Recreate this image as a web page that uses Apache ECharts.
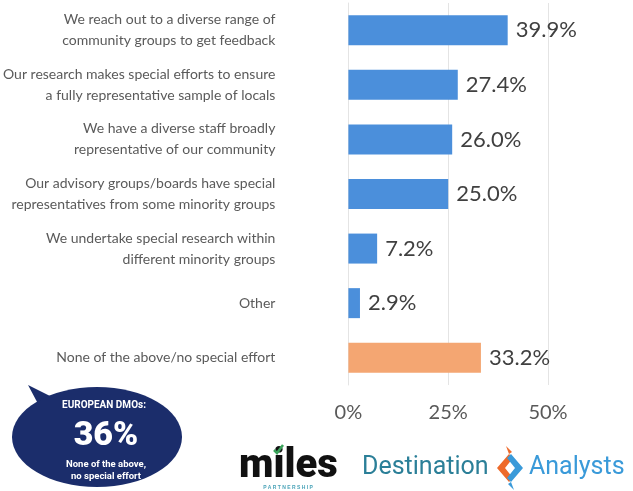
<!DOCTYPE html>
<html>
<head>
<meta charset="utf-8">
<script src="https://cdn.jsdelivr.net/npm/echarts@6/dist/echarts.min.js"></script>
<style>
  html, body { margin: 0; padding: 0; background: #ffffff; }
  #chart { width: 633px; height: 491px; }
</style>
</head>
<body>
<div id="chart"></div>
<script>
// Survey answers, top to bottom
const categories = [
  'We reach out to a diverse range of\ncommunity groups to get feedback',
  'Our research makes special efforts to ensure\na fully representative sample of locals',
  'We have a diverse staff broadly\nrepresentative of our community',
  'Our advisory groups/boards have special\nrepresentatives from some minority groups',
  'We undertake special research within\ndifferent minority groups',
  'Other',
  'None of the above/no special effort'
];
// Share of respondents, percent
const values = [39.9, 27.4, 26.0, 25.0, 7.2, 2.9, 33.2];
// Which answers are the "no effort" group (drawn in orange)
const isNone = [false, false, false, false, false, false, true];
const tickValues = [0, 25, 50];

const BLUE = '#4b8fdb';
const ORANGE = '#f4a672';

const chart = echarts.init(document.getElementById('chart'));

const labelFont = 'Lato, "Open Sans", sans-serif';

chart.setOption({
  backgroundColor: '#ffffff',
  animation: false,
  grid: { left: 348, right: 85, top: 3, bottom: 106, containLabel: false },
  xAxis: {
    type: 'value',
    min: tickValues[0],
    max: tickValues[tickValues.length - 1],
    interval: 25,
    axisLine: { show: false },
    axisTick: { show: false },
    splitLine: { show: true, lineStyle: { color: '#e4e4e4', width: 1 } },
    axisLabel: {
      formatter: v => v + '%',
      color: '#595959',
      fontSize: 20,
      fontFamily: labelFont,
      margin: 18
    }
  },
  yAxis: {
    type: 'category',
    data: categories,
    inverse: true,
    axisLine: { show: true, lineStyle: { color: '#e4e4e4', width: 1 } },
    axisTick: { show: false },
    axisLabel: {
      color: '#5a5a5a',
      fontSize: 14,
      fontFamily: labelFont,
      lineHeight: 21,
      align: 'right',
      margin: 73
    }
  },
  series: [{
    type: 'bar',
    barWidth: 30,
    data: values.map((v, i) => ({
      value: v,
      itemStyle: { color: isNone[i] ? ORANGE : BLUE }
    })),
    label: {
      show: true,
      position: 'right',
      distance: 8,
      formatter: p => p.value.toFixed(1) + '%',
      color: '#404040',
      fontSize: 22,
      fontFamily: labelFont
    }
  }],
  graphic: [
    // Speech bubble with the European comparison figure
    {
      type: 'group',
      children: [
        {
          type: 'polygon',
          shape: { points: [[28, 385], [62, 402], [44, 415]] },
          style: { fill: '#1b2d6b' }
        },
        {
          type: 'ellipse',
          shape: { cx: 97, cy: 437, rx: 85, ry: 50 },
          style: { fill: '#1b2d6b' }
        },
        {
          type: 'text',
          style: {
            x: 104, y: 405, text: 'EUROPEAN DMOs:',
            fill: '#ffffff', font: 'bold 10px "Liberation Sans Narrow", "Roboto", sans-serif',
            align: 'center', verticalAlign: 'middle'
          }
        },
        {
          type: 'text',
          style: {
            x: 106, y: 436, text: '36%',
            fill: '#ffffff', font: '900 34px "Roboto", "Liberation Sans", sans-serif',
            align: 'center', verticalAlign: 'middle'
          }
        },
        {
          type: 'text',
          style: {
            x: 106, y: 465, text: 'None of the above,',
            fill: '#ffffff', font: 'bold 9.5px "Roboto", sans-serif',
            align: 'center', verticalAlign: 'middle'
          }
        },
        {
          type: 'text',
          style: {
            x: 106, y: 477, text: 'no special effort',
            fill: '#ffffff', font: 'bold 9.5px "Roboto", sans-serif',
            align: 'center', verticalAlign: 'middle'
          }
        }
      ]
    },
    // Partner logo: miles
    {
      type: 'text',
      style: {
        x: 239, y: 467, text: 'miles',
        fill: '#111111', font: '900 40px "Roboto", "Liberation Sans", sans-serif',
        verticalAlign: 'middle'
      }
    },
    {
      type: 'polyline',
      shape: { points: [[274, 450], [277, 453], [283, 445]] },
      style: { stroke: '#3aa35a', lineWidth: 2.5, fill: null }
    },
    {
      type: 'text',
      style: {
        x: 288, y: 488, text: 'P A R T N E R S H I P',
        fill: '#4aa3b8', font: 'bold 5px sans-serif',
        align: 'center', verticalAlign: 'middle'
      }
    },
    // Partner logo: Destination Analysts
    {
      type: 'text',
      style: {
        x: 362, y: 468, text: 'Destination',
        fill: '#2b7f98', font: '25px "Roboto", "DejaVu Sans", sans-serif',
        verticalAlign: 'middle'
      }
    },
    {
      type: 'polygon',
      shape: { points: [[509, 454], [497, 468], [509, 482], [513, 478], [505, 468], [513, 458]] },
      style: { fill: '#ee6a2a' }
    },
    {
      type: 'polygon',
      shape: { points: [[509, 454], [506, 446], [512, 452]] },
      style: { fill: '#ee6a2a' }
    },
    {
      type: 'polygon',
      shape: { points: [[511, 454], [523, 468], [511, 482], [507, 478], [515, 468], [507, 458]] },
      style: { fill: '#3a9ad9' }
    },
    {
      type: 'polygon',
      shape: { points: [[511, 482], [514, 490], [508, 484]] },
      style: { fill: '#3a9ad9' }
    },
    {
      type: 'text',
      style: {
        x: 529, y: 468, text: 'Analysts',
        fill: '#3a9ad9', font: '25px "Roboto", "DejaVu Sans", sans-serif',
        verticalAlign: 'middle'
      }
    }
  ]
});
</script>
</body>
</html>
